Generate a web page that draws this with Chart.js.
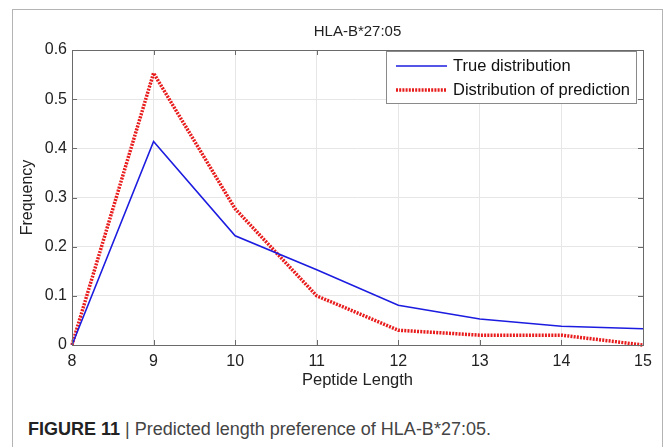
<!DOCTYPE html>
<html>
<head>
<meta charset="utf-8">
<script src="https://cdn.jsdelivr.net/npm/chart.js@4.4.1/dist/chart.umd.min.js"></script>
<style>
body { margin:0; background:#fff; width:665px; height:447px; position:relative; overflow:hidden; font-family:"Liberation Sans", Arial, sans-serif; }
#frame { position:absolute; left:12px; top:9px; width:649px; height:450px; border:1px solid #b4b4b4; border-bottom:none; }
#wrap { position:absolute; left:0; top:0; width:665px; height:400px; }
#caption { position:absolute; left:28px; top:419px; font-size:18px; color:#444; white-space:nowrap; }
#caption b { color:#222; }
</style>
</head>
<body>
<div id="frame"></div>
<div id="wrap"><canvas id="chart-line" width="665" height="400"></canvas></div>
<div id="caption"><b>FIGURE 11</b> | Predicted length preference of HLA-B*27:05.</div>
<script>
// peptide lengths on the x axis
var lengths = ['8', '9', '10', '11', '12', '13', '14', '15'];
// frequencies
var trueDist = [0, 0.414, 0.222, 0.153, 0.081, 0.053, 0.038, 0.033];
var predDist = [0, 0.553, 0.277, 0.100, 0.030, 0.020, 0.020, 0.000];

var FONT = '"Liberation Sans", Arial, sans-serif';
var blue = '#1c1ce0';
var red = '#e81c1c';

// MATLAB style box with inward ticks
var boxPlugin = {
    id: 'box',
    afterDatasetsDraw: function(chart) {
        var ctx = chart.ctx, a = chart.chartArea;
        var x = chart.scales.x, y = chart.scales.y;
        ctx.save();
        ctx.strokeStyle = '#6a6a6a';
        ctx.lineWidth = 1;
        ctx.beginPath();
        x.ticks.forEach(function(t, i) {
            var px = Math.round(x.getPixelForTick(i)) + 0.5;
            ctx.moveTo(px, a.bottom); ctx.lineTo(px, a.bottom - 5);
            ctx.moveTo(px, a.top); ctx.lineTo(px, a.top + 5);
        });
        y.ticks.forEach(function(t, i) {
            var py = Math.round(y.getPixelForTick(i)) + 0.5;
            ctx.moveTo(a.left, py); ctx.lineTo(a.left + 5, py);
            ctx.moveTo(a.right, py); ctx.lineTo(a.right - 5, py);
        });
        ctx.stroke();
        ctx.strokeRect(Math.round(a.left) + 0.5, Math.round(a.top) + 0.5,
            Math.round(a.right - a.left), Math.round(a.bottom - a.top));
        ctx.restore();
    }
};

// legend box inside the top right corner
var legendPlugin = {
    id: 'boxLegend',
    afterDraw: function(chart) {
        var ctx = chart.ctx, a = chart.chartArea;
        var right = a.right - 7, top = a.top + 1;
        var w = 250, h = 52;
        var left = right - w;
        ctx.save();
        ctx.fillStyle = '#fff';
        ctx.fillRect(left, top, w, h);
        ctx.strokeStyle = '#8a8a8a';
        ctx.lineWidth = 1;
        ctx.strokeRect(Math.round(left) + 0.5, Math.round(top) + 0.5, w, h);
        ctx.font = '16.5px ' + FONT;
        ctx.textBaseline = 'middle';
        ctx.fillStyle = '#111';
        chart.data.datasets.forEach(function(ds, i) {
            var ly = top + 15 + i * 24;
            ctx.beginPath();
            ctx.strokeStyle = ds.borderColor;
            ctx.lineWidth = ds.borderWidth;
            ctx.setLineDash(ds.borderDash || []);
            ctx.moveTo(left + 10, ly);
            ctx.lineTo(left + 61, ly);
            ctx.stroke();
            ctx.setLineDash([]);
            ctx.fillText(ds.label, left + 67, ly);
        });
        ctx.restore();
    }
};

var ctx = document.getElementById('chart-line');
var myLineChart = new Chart(ctx, {
    type: 'line',
    data: {
        labels: lengths,
        datasets: [
            {
                data: trueDist,
                label: 'True distribution',
                borderColor: blue,
                borderWidth: 1.6,
                pointRadius: 0,
                fill: false,
                tension: 0,
                clip: 4
            }, {
                data: predDist,
                label: 'Distribution of prediction',
                borderColor: red,
                borderWidth: 3.5,
                borderDash: [2, 1.2],
                pointRadius: 0,
                fill: false,
                tension: 0,
                clip: 4
            }
        ]
    },
    options: {
        responsive: false,
        animation: false,
        devicePixelRatio: 1,
        layout: { padding: { left: 0, right: 22, top: 0, bottom: 3 } },
        plugins: {
            legend: { display: false },
            tooltip: { enabled: false },
            title: {
                display: true,
                text: 'HLA-B*27:05',
                fullSize: false,
                color: '#222',
                font: { family: FONT, size: 15, weight: 'normal' },
                padding: { top: 23, bottom: 9 }
            }
        },
        scales: {
            x: {
                offset: false,
                grid: { color: '#e6e6e6', drawTicks: false },
                border: { display: false },
                ticks: { color: '#222', font: { family: FONT, size: 16 }, padding: 7, maxRotation: 0, autoSkip: false },
                title: { display: true, text: 'Peptide Length', color: '#222', font: { family: FONT, size: 16.5 }, padding: { top: 0, bottom: 7 } },
                afterFit: function(s) { s.height = 52; }
            },
            y: {
                min: 0,
                max: 0.6,
                grid: { color: '#e6e6e6', drawTicks: false },
                border: { display: false },
                ticks: {
                    stepSize: 0.1,
                    color: '#222',
                    font: { family: FONT, size: 16 },
                    padding: 5,
                    callback: function(v) { return v === 0 ? '0' : v.toFixed(1); }
                },
                title: { display: true, text: 'Frequency', color: '#222', font: { family: FONT, size: 16 }, padding: { top: 18, bottom: 0 } },
                afterFit: function(s) { s.width = 72; }
            }
        }
    },
    plugins: [boxPlugin, legendPlugin]
});
</script>
</body>
</html>
